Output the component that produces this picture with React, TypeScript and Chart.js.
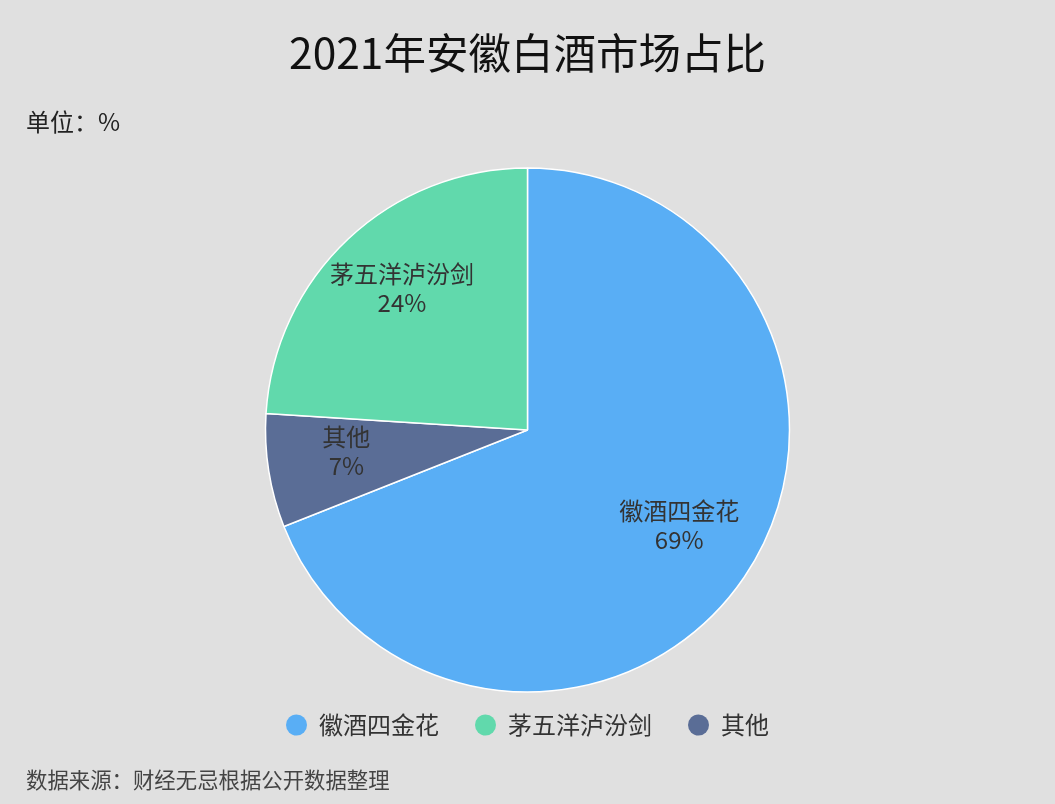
import React, { useEffect, useRef } from 'react';
import { Chart, ChartConfiguration, Plugin, registerables } from 'chart.js';

Chart.register(...registerables);

// slices in drawing order (clockwise from 12 o'clock)
const categories = ['徽酒四金花', '其他', '茅五洋泸汾剑'];
const shares = [69, 7, 24];
// the legend lists them in a different order
const legendOrder = ['徽酒四金花', '茅五洋泸汾剑', '其他'];

const titleText = '2021年安徽白酒市场占比';
const unitText = '单位：%';
const sourceText = '数据来源：财经无忌根据公开数据整理';

const sliceColors = ['#59AEF5', '#5A6D96', '#61D9AC'];
const FONT = '"Noto Sans CJK SC", "Noto Sans", sans-serif';

const sliceLabels: Plugin<'pie'> = {
    id: 'sliceLabels',
    afterDatasetsDraw(chart) {
        const { ctx } = chart;
        const meta = chart.getDatasetMeta(0);
        ctx.save();
        ctx.font = `24px ${FONT}`;
        ctx.fillStyle = '#333333';
        ctx.textAlign = 'center';
        ctx.textBaseline = 'middle';
        meta.data.forEach((arc, i) => {
            const { x, y, startAngle, endAngle, outerRadius } = arc.getProps(
                ['x', 'y', 'startAngle', 'endAngle', 'outerRadius'],
                true
            ) as any;
            const mid = (startAngle + endAngle) / 2;
            const r = outerRadius * 0.7;
            const px = x + Math.cos(mid) * r;
            const py = y + Math.sin(mid) * r;
            ctx.fillText(categories[i], px, py - 22);
            ctx.fillText(`${shares[i]}%`, px, py + 7);
        });
        ctx.restore();
    },
};

const cornerTexts: Plugin<'pie'> = {
    id: 'cornerTexts',
    afterDraw(chart) {
        const { ctx, height } = chart;
        ctx.save();
        ctx.textAlign = 'left';
        ctx.textBaseline = 'middle';
        ctx.font = `24px ${FONT}`;
        ctx.fillStyle = '#222222';
        ctx.fillText(unitText, 26, 122);
        ctx.font = `21.4px ${FONT}`;
        ctx.fillStyle = '#444444';
        ctx.fillText(sourceText, 26, height - 24);
        ctx.restore();
    },
};

const App: React.FC = () => {
    const chartRef = useRef<HTMLCanvasElement>(null);
    const chartInstanceRef = useRef<Chart | null>(null);

    useEffect(() => {
        document.body.style.margin = '0';
        document.body.style.background = '#E0E0E0';
        if (!chartRef.current) return;
        const ctx = chartRef.current.getContext('2d');
        if (!ctx) return;

        const defaultLabels = Chart.overrides.pie.plugins.legend.labels.generateLabels;

        const config: ChartConfiguration<'pie'> = {
            type: 'pie',
            data: {
                labels: categories,
                datasets: [{
                    data: shares,
                    backgroundColor: sliceColors,
                    borderColor: '#ffffff',
                    borderWidth: 1.5,
                    radius: 262,
                }]
            },
            options: {
                responsive: true,
                maintainAspectRatio: false,
                animation: false,
                layout: {
                    padding: { top: 0, bottom: 57, left: 0, right: 0 },
                },
                plugins: {
                    title: {
                        display: true,
                        text: titleText,
                        color: '#111111',
                        font: { family: FONT, size: 42.5, weight: 'normal' },
                        padding: { top: 27, bottom: 105 },
                    },
                    legend: {
                        position: 'bottom',
                        labels: {
                            usePointStyle: true,
                            pointStyle: 'circle',
                            boxWidth: 21,
                            boxHeight: 15,
                            pointStyleWidth: 21,
                            padding: 36,
                            color: '#333333',
                            font: { family: FONT, size: 24 },
                            generateLabels: (chart) =>
                                defaultLabels(chart).map(item => ({
                                    ...item,
                                    strokeStyle: item.fillStyle,
                                    lineWidth: 0,
                                })),
                            sort: (a, b) => legendOrder.indexOf(a.text) - legendOrder.indexOf(b.text),
                        },
                    },
                    tooltip: { enabled: false },
                },
            },
            plugins: [sliceLabels, cornerTexts],
        };

        chartInstanceRef.current = new Chart(ctx, config as ChartConfiguration);

        return () => {
            if (chartInstanceRef.current) {
                chartInstanceRef.current.destroy();
                chartInstanceRef.current = null;
            }
        };
    }, []);

    return (
        <div style={{ width: '1055px', height: '804px', background: '#E0E0E0', position: 'relative' }}>
            <canvas ref={chartRef} />
        </div>
    );
};

export default App;
